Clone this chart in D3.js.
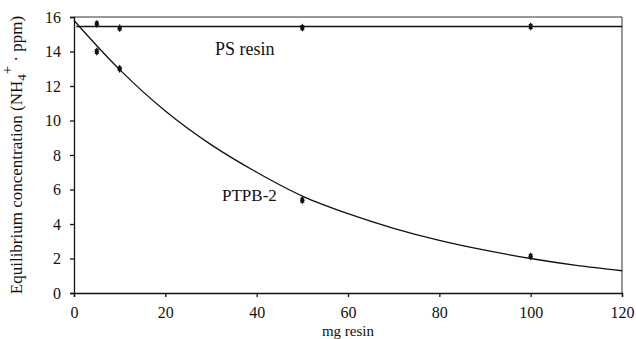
<!DOCTYPE html>
<html><head><meta charset="utf-8">
<script src="https://cdn.jsdelivr.net/npm/d3@7"></script>
<style>
body{margin:0;background:#fff;}
svg{display:block;}
svg text{font-family:"Liberation Serif","Times New Roman",Tinos,"Nimbus Roman","DejaVu Serif",serif !important;}
</style></head>
<body><svg id="c" width="636" height="339"></svg>
<script>
// Measured data
const resinMg = [5, 10, 50, 100];
const psConc = [15.6, 15.35, 15.38, 15.45];
const ptpbConc = [14.0, 13.0, 5.38, 2.12];
const errBar = [0.12, 0.1, 0.12, 0.12];
// Fitted lines
const psFitX = [0.5, 120];
const psFitY = [15.45, 15.45];
const ptpbFitX = [0, 10, 20, 30, 40, 50, 60, 70, 80, 90, 100, 110, 120];
const ptpbFitY = [15.8, 12.95, 10.55, 8.6, 7.0, 5.62, 4.6, 3.75, 3.05, 2.48, 2.0, 1.6, 1.29];
const xTicks = [0, 20, 40, 60, 80, 100, 120];
const yTicks = [0, 2, 4, 6, 8, 10, 12, 14, 16];

const svg = d3.select("#c");
const m = {l: 74, r: 14, t: 17, b: 46};
const W = 636, H = 339;
const x = d3.scaleLinear().domain([0, 120]).range([m.l, W - m.r]);
const y = d3.scaleLinear().domain([0, 16]).range([H - m.b, m.t]);

// frame (top & right)
svg.append("path")
  .attr("d", `M${x(0)},${y(16)}H${x(120)}V${y(0)}`)
  .attr("fill", "none").attr("stroke", "#333").attr("stroke-width", 1);

const fs = 16;
const xa = svg.append("g").attr("transform", `translate(0,${y(0)})`)
  .call(d3.axisBottom(x).tickValues(xTicks).tickSize(4).tickPadding(10).tickFormat(d3.format("d")));
const ya = svg.append("g").attr("transform", `translate(${x(0)},0)`)
  .call(d3.axisLeft(y).tickValues(yTicks).tickSize(4).tickPadding(9).tickFormat(d3.format("d")));
[xa, ya].forEach(a => {
  a.attr("font-family", null);
  a.selectAll("text").attr("font-size", fs).attr("fill", "#111");
  a.selectAll("line,path").attr("stroke", "#111").attr("stroke-width", 1.3);
});

// fits
const line = d3.line().x(d => x(d[0])).y(d => y(d[1]));
svg.append("path").datum(psFitX.map((v, i) => [v, psFitY[i]]))
  .attr("d", line).attr("fill", "none").attr("stroke", "#111").attr("stroke-width", 1.3);
svg.append("path").datum(ptpbFitX.map((v, i) => [v, ptpbFitY[i]]))
  .attr("d", line.curve(d3.curveCatmullRom)).attr("fill", "none").attr("stroke", "#111").attr("stroke-width", 1.3);

// points
function drawPts(vals) {
  const g = svg.append("g");
  resinMg.forEach((mx, i) => {
    const cx = x(mx), v = vals[i], e = errBar[i];
    g.append("line").attr("x1", cx).attr("x2", cx).attr("y1", y(v - e)).attr("y2", y(v + e)).attr("stroke", "#111").attr("stroke-width", 1);
    g.append("line").attr("x1", cx - 2).attr("x2", cx + 2).attr("y1", y(v + e)).attr("y2", y(v + e)).attr("stroke", "#111");
    g.append("line").attr("x1", cx - 2).attr("x2", cx + 2).attr("y1", y(v - e)).attr("y2", y(v - e)).attr("stroke", "#111");
    g.append("path").attr("d", d3.symbol(d3.symbolDiamond, 20)()).attr("transform", `translate(${cx},${y(v)})`).attr("fill", "#111");
  });
}
drawPts(psConc);
drawPts(ptpbConc);

// labels
svg.append("text").attr("x", 215).attr("y", 55).attr("font-size", 18).attr("fill", "#111").text("PS resin");
svg.append("text").attr("x", 222).attr("y", 201).attr("font-size", 17).attr("fill", "#111").text("PTPB-2");

svg.append("text").attr("x", (x(0) + x(120)) / 2).attr("y", 336).attr("text-anchor", "middle")
  .attr("font-size", 15).attr("fill", "#111").text("mg resin");

const yl = svg.append("text").attr("transform", `translate(22,${(y(0) + y(16)) / 2}) rotate(-90)`)
  .attr("text-anchor", "middle").attr("font-size", 17).attr("fill", "#111");
yl.append("tspan").text("Equilibrium concentration (NH");
yl.append("tspan").attr("font-size", 13).attr("dy", 4).text("4");
yl.append("tspan").attr("font-size", 15).attr("dy", -14).text("+");
yl.append("tspan").attr("dy", 10).text(" · ppm)");
</script></body></html>
